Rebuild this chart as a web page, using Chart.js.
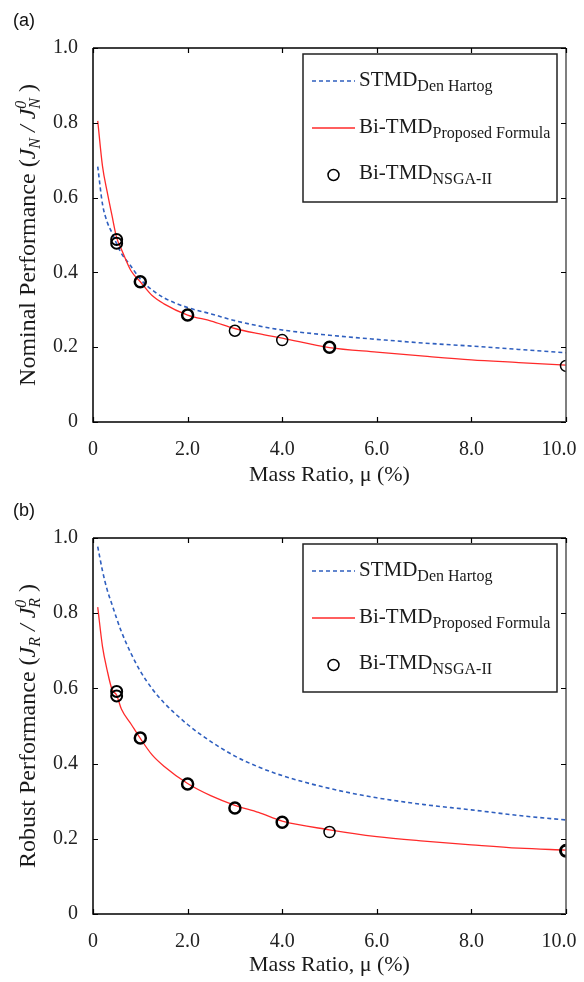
<!DOCTYPE html>
<html>
<head>
<meta charset="utf-8">
<script src="https://cdn.jsdelivr.net/npm/chart.js@4.4.0/dist/chart.umd.min.js"></script>
<style>
  html, body { margin: 0; padding: 0; background: #fff; }
  .panel { position: relative; width: 584px; }
  canvas { display: block; }
</style>
</head>
<body>
<div class="panel" style="height:490px"><canvas id="ca" width="584" height="490"></canvas></div>
<div class="panel" style="height:492px"><canvas id="cb" width="584" height="492"></canvas></div>
<script>
// ---------- DATA ----------
const mu = [0.1, 0.2, 0.3, 0.4, 0.5, 0.6, 0.8, 1.0, 1.25, 1.5, 2.0, 2.5, 3.0, 3.5, 4.0, 5.0, 6.0, 7.0, 8.0, 9.0, 10.0];
const nominalSTMD  = [0.683, 0.583, 0.535, 0.506, 0.477, 0.451, 0.417, 0.382, 0.353, 0.332, 0.306, 0.289, 0.271, 0.257, 0.246, 0.232, 0.221, 0.211, 0.203, 0.194, 0.185];
const nominalBiTMD = [0.805, 0.685, 0.615, 0.553, 0.493, 0.462, 0.405, 0.375, 0.338, 0.316, 0.286, 0.270, 0.250, 0.236, 0.224, 0.199, 0.187, 0.176, 0.166, 0.159, 0.152];
const robustSTMD   = [0.977, 0.913, 0.862, 0.824, 0.786, 0.751, 0.694, 0.646, 0.599, 0.562, 0.504, 0.458, 0.420, 0.391, 0.368, 0.334, 0.309, 0.291, 0.277, 0.262, 0.250];
const robustBiTMD  = [0.816, 0.712, 0.648, 0.598, 0.582, 0.545, 0.506, 0.467, 0.423, 0.393, 0.347, 0.314, 0.289, 0.270, 0.247, 0.224, 0.206, 0.194, 0.184, 0.175, 0.170];
const nsgaMu       = [0.5, 0.5, 1, 2, 3, 4, 5, 10];
const nominalNSGA  = [0.488, 0.478, 0.375, 0.286, 0.244, 0.219, 0.200, 0.150];
const robustNSGA   = [0.592, 0.580, 0.468, 0.346, 0.282, 0.244, 0.218, 0.168];
const xTicks = [0, 2, 4, 6, 8, 10];
const yTicks = [0, 0.2, 0.4, 0.6, 0.8, 1.0];
const xTickLabels = ['0', '2.0', '4.0', '6.0', '8.0', '10.0'];
const yTickLabels = ['0', '0.2', '0.4', '0.6', '0.8', '1.0'];
const legendLabels = [['STMD', 'Den Hartog'], ['Bi-TMD', 'Proposed Formula'], ['Bi-TMD', 'NSGA-II']];
const xTitle = 'Mass Ratio, \u03bc (%)';

// ---------- STYLE ----------
const SERIF = '"Liberation Serif", "Times New Roman", serif';
const BLUE = '#2f5fbf';
const RED = '#ff2a2a';
const circleWidthsA = [2, 2, 2.5, 2.5, 1.5, 1.5, 2.5, 1.5];
const circleWidthsB = [2, 2, 2.5, 2.5, 2.5, 2.5, 1.5, 3];
const TITLE_SIZE = 24, TITLE_SUB = 16;

function pts(xs, ys) { return xs.map((x, i) => ({ x: x, y: ys[i] })); }

function drawRich(ctx, x, y, parts) {
  let cx = x;
  for (const p of parts) {
    ctx.font = (p.italic ? 'italic ' : '') + p.size + 'px ' + SERIF;
    ctx.fillText(p.t, cx, y + (p.dy || 0));
    cx += ctx.measureText(p.t).width + (p.kern || 0);
  }
  return cx - x;
}
function richWidth(ctx, parts) {
  let w = 0;
  for (const p of parts) {
    ctx.font = (p.italic ? 'italic ' : '') + p.size + 'px ' + SERIF;
    w += ctx.measureText(p.t).width + (p.kern || 0);
  }
  return w;
}

function makeChart(id, panelLabel, yTitleParts, stmd, bitmd, nsga, circleWidths) {
  const decor = {
    id: 'decor',
    beforeDraw(chart) {
      // nudge the last x tick label ("10.0") inward, as in the original figure
      const xs = chart.scales.x;
      const items = xs.getLabelItems(chart.chartArea);
      const last = items[items.length - 1];
      if (last && last.options && last.options.translation && !last._nudged) {
        last.options.translation[0] -= 7;
        last._nudged = true;
      }
    },
    afterDraw(chart) {
      const ctx = chart.ctx;
      const a = chart.chartArea;
      const xs = chart.scales.x, ys = chart.scales.y;
      ctx.save();
      // frame
      ctx.lineWidth = 1.5;
      ctx.strokeStyle = '#000';
      ctx.beginPath();
      ctx.moveTo(a.left, a.top); ctx.lineTo(a.right, a.top);
      ctx.moveTo(a.left, a.top); ctx.lineTo(a.left, a.bottom); ctx.lineTo(a.right, a.bottom);
      ctx.stroke();
      ctx.strokeStyle = '#555';
      ctx.beginPath();
      ctx.moveTo(a.right, a.top); ctx.lineTo(a.right, a.bottom);
      ctx.stroke();
      // inward ticks
      ctx.strokeStyle = '#000';
      ctx.lineWidth = 1.2;
      const tl = 5;
      ctx.beginPath();
      for (const v of xTicks) {
        const px = Math.round(xs.getPixelForValue(v)) + 0.5;
        ctx.moveTo(px, a.bottom); ctx.lineTo(px, a.bottom - tl);
        ctx.moveTo(px, a.top); ctx.lineTo(px, a.top + tl);
      }
      for (const v of yTicks) {
        const py = Math.round(ys.getPixelForValue(v)) + 0.5;
        ctx.moveTo(a.left, py); ctx.lineTo(a.left + tl, py);
        ctx.moveTo(a.right, py); ctx.lineTo(a.right - tl, py);
      }
      ctx.stroke();

      // legend
      const lx = 303, ly = 54, lw = 254, lh = 148;
      ctx.fillStyle = '#fff';
      ctx.fillRect(lx, ly, lw, lh);
      ctx.lineWidth = 1.5;
      ctx.strokeStyle = '#222';
      ctx.strokeRect(lx, ly, lw, lh);
      // sample 1: dashed blue
      ctx.lineWidth = 1.5;
      ctx.strokeStyle = BLUE;
      ctx.setLineDash([4, 3]);
      ctx.beginPath(); ctx.moveTo(312, 81); ctx.lineTo(355, 81); ctx.stroke();
      ctx.setLineDash([]);
      // sample 2: red line
      ctx.strokeStyle = RED;
      ctx.lineWidth = 1.3;
      ctx.beginPath(); ctx.moveTo(312, 128); ctx.lineTo(355, 128); ctx.stroke();
      // sample 3: circle
      ctx.strokeStyle = '#000';
      ctx.lineWidth = 1.5;
      ctx.beginPath(); ctx.arc(333.5, 175, 5.5, 0, Math.PI * 2); ctx.stroke();
      ctx.fillStyle = '#1a1a1a';
      ctx.textBaseline = 'alphabetic';
      ctx.textAlign = 'left';
      const baseY = [86, 133, 179];
      legendLabels.forEach((lab, i) => {
        drawRich(ctx, 359, baseY[i], [
          { t: lab[0], size: 21 },
          { t: lab[1], size: 16, dy: 5 }
        ]);
      });

      // x title
      ctx.font = '22px ' + SERIF;
      ctx.textAlign = 'center';
      ctx.fillText(xTitle, (a.left + a.right) / 2, 481);

      // y title (rotated)
      ctx.save();
      ctx.translate(35, (a.top + a.bottom) / 2);
      ctx.rotate(-Math.PI / 2);
      ctx.textAlign = 'left';
      const w = richWidth(ctx, yTitleParts);
      drawRich(ctx, -w / 2, 0, yTitleParts);
      ctx.restore();

      // panel label
      ctx.font = '18px "Liberation Sans", Arial, sans-serif';
      ctx.textAlign = 'left';
      ctx.fillStyle = '#111';
      ctx.fillText(panelLabel, 13, 26);
      ctx.restore();
    }
  };

  return new Chart(document.getElementById(id), {
    type: 'line',
    data: {
      datasets: [
        {
          type: 'scatter',
          label: 'Bi-TMD NSGA-II',
          data: pts(nsgaMu, nsga),
          showLine: false,
          pointStyle: 'circle',
          pointRadius: 5.5,
          pointBorderWidth: circleWidths,
          pointBorderColor: '#000',
          pointBackgroundColor: 'rgba(0,0,0,0)'
        },
        {
          label: 'Bi-TMD Proposed Formula',
          data: pts(mu, bitmd),
          borderColor: RED,
          borderWidth: 1.3,
          pointRadius: 0,
          cubicInterpolationMode: 'monotone',
          fill: false
        },
        {
          label: 'STMD Den Hartog',
          data: pts(mu, stmd),
          borderColor: BLUE,
          borderWidth: 1.6,
          borderDash: [4, 3],
          pointRadius: 0,
          cubicInterpolationMode: 'monotone',
          fill: false
        }
      ]
    },
    options: {
      responsive: false,
      animation: false,
      devicePixelRatio: 1,
      layout: { padding: { left: 0, right: 18, top: 48, bottom: 0 } },
      plugins: { legend: { display: false }, tooltip: { enabled: false } },
      scales: {
        x: {
          type: 'linear',
          min: 0, max: 10,
          afterBuildTicks(s) { s.ticks = xTicks.map(v => ({ value: v })); },
          afterFit(s) { s.height = 68; s.paddingLeft = 0; s.paddingRight = 0; },
          grid: { display: false, drawTicks: false },
          border: { display: false },
          ticks: {
            padding: 16,
            color: '#222',
            font: { family: SERIF, size: 20 },
            maxRotation: 0,
            autoSkip: false,
            callback: (v) => xTickLabels[xTicks.indexOf(v)]
          }
        },
        y: {
          type: 'linear',
          min: 0, max: 1,
          afterBuildTicks(s) { s.ticks = yTicks.map(v => ({ value: v })); },
          afterFit(s) { s.width = 93; s.paddingTop = 0; s.paddingBottom = 0; },
          grid: { display: false, drawTicks: false },
          border: { display: false },
          ticks: {
            padding: 15,
            color: '#222',
            font: { family: SERIF, size: 20 },
            autoSkip: false,
            callback: (v) => yTickLabels[yTicks.findIndex(t => Math.abs(t - v) < 1e-9)]
          }
        }
      }
    },
    plugins: [decor]
  });
}

function yTitleParts(word, sym) {
  return [
    { t: word + ' Performance (', size: TITLE_SIZE },
    { t: 'J', size: TITLE_SIZE, italic: true },
    { t: sym, size: TITLE_SUB, italic: true, dy: 5 },
    { t: ' / ', size: TITLE_SIZE, italic: true },
    { t: 'J', size: TITLE_SIZE, italic: true },
    { t: '0', size: TITLE_SUB, italic: true, dy: -9, kern: -8 },
    { t: sym, size: TITLE_SUB, italic: true, dy: 5 },
    { t: ' )', size: TITLE_SIZE }
  ];
}

makeChart('ca', '(a)', yTitleParts('Nominal', 'N'), nominalSTMD, nominalBiTMD, nominalNSGA, circleWidthsA);
makeChart('cb', '(b)', yTitleParts('Robust', 'R'), robustSTMD, robustBiTMD, robustNSGA, circleWidthsB);
</script>
</body>
</html>
